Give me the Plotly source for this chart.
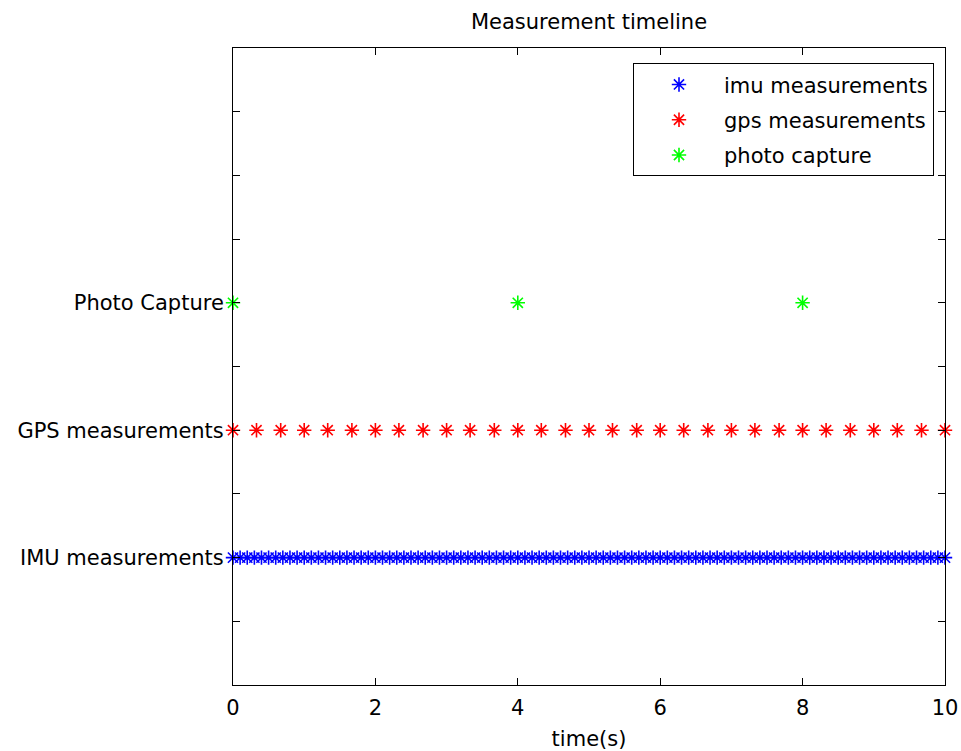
import plotly.graph_objects as go

# ---- data ----
imu_times = [0.0, 0.1, 0.2, 0.3, 0.4, 0.5, 0.6, 0.7, 0.8, 0.9,
             1.0, 1.1, 1.2, 1.3, 1.4, 1.5, 1.6, 1.7, 1.8, 1.9,
             2.0, 2.1, 2.2, 2.3, 2.4, 2.5, 2.6, 2.7, 2.8, 2.9,
             3.0, 3.1, 3.2, 3.3, 3.4, 3.5, 3.6, 3.7, 3.8, 3.9,
             4.0, 4.1, 4.2, 4.3, 4.4, 4.5, 4.6, 4.7, 4.8, 4.9,
             5.0, 5.1, 5.2, 5.3, 5.4, 5.5, 5.6, 5.7, 5.8, 5.9,
             6.0, 6.1, 6.2, 6.3, 6.4, 6.5, 6.6, 6.7, 6.8, 6.9,
             7.0, 7.1, 7.2, 7.3, 7.4, 7.5, 7.6, 7.7, 7.8, 7.9,
             8.0, 8.1, 8.2, 8.3, 8.4, 8.5, 8.6, 8.7, 8.8, 8.9,
             9.0, 9.1, 9.2, 9.3, 9.4, 9.5, 9.6, 9.7, 9.8, 9.9,
             10.0]
gps_times = [0.00, 0.33, 0.67, 1.00, 1.33, 1.67, 2.00, 2.33, 2.67, 3.00,
             3.33, 3.67, 4.00, 4.33, 4.67, 5.00, 5.33, 5.67, 6.00, 6.33,
             6.67, 7.00, 7.33, 7.67, 8.00, 8.33, 8.67, 9.00, 9.33, 9.67,
             10.00]
photo_times = [0, 4, 8]

imu_level = 1
gps_level = 2
photo_level = 3

series_names = ["imu measurements", "gps measurements", "photo capture"]
series_colors = ["#0000FF", "#FF0000", "#00FF00"]

y_tickvals = [0, 0.5, 1, 1.5, 2, 2.5, 3, 3.5, 4, 4.5, 5]
y_ticktext = ["", "", "IMU measurements", "", "GPS measurements", "",
              "Photo Capture", "", "", "", ""]
x_tickvals = [0, 2, 4, 6, 8, 10]

FONT = "DejaVu Sans"
FS = 21

fig = go.Figure()
for times, level, name, color in zip(
        [imu_times, gps_times, photo_times],
        [imu_level, gps_level, photo_level],
        series_names, series_colors):
    fig.add_trace(go.Scatter(
        x=times, y=[level] * len(times), mode="markers", name=name,
        legendgroup=name, cliponaxis=False,
        marker=dict(symbol="asterisk-open", size=12, color=color,
                    line=dict(color=color, width=1.6)),
    ))

fig.update_layout(
    width=961, height=751,
    margin=dict(l=233, r=16, t=48, b=66, autoexpand=False),
    paper_bgcolor="white", plot_bgcolor="white",
    font=dict(family=FONT, size=FS, color="black"),
    title=dict(text="Measurement timeline", x=0.5, xref="paper",
               y=1 - 22 / 751, yref="container", yanchor="middle",
               xanchor="center", font=dict(family=FONT, size=FS, color="black")),
    showlegend=True,
    legend=dict(x=(934 - 233) / 712, y=0.976, xanchor="right", yanchor="top",
                bordercolor="black", borderwidth=1, bgcolor="white",
                font=dict(family=FONT, size=FS, color="black"),
                itemwidth=80, tracegroupgap=5),
)
fig.update_xaxes(range=[0, 10], tickvals=x_tickvals, ticks="inside",
                 ticklen=7, tickcolor="black", showline=True, linecolor="black",
                 linewidth=1, mirror="ticks", showgrid=False, zeroline=False,
                 automargin=False, ticklabelstandoff=4,
                 title=dict(text="time(s)", standoff=14,
                            font=dict(family=FONT, size=FS, color="black")))
fig.update_yaxes(range=[0, 5], tickvals=y_tickvals, ticktext=y_ticktext,
                 ticks="inside", ticklen=7, tickcolor="black", showline=True,
                 linecolor="black", linewidth=1, mirror="ticks",
                 showgrid=False, zeroline=False, ticklabelstandoff=4,
                 automargin=False)

fig.write_html("out.html")
